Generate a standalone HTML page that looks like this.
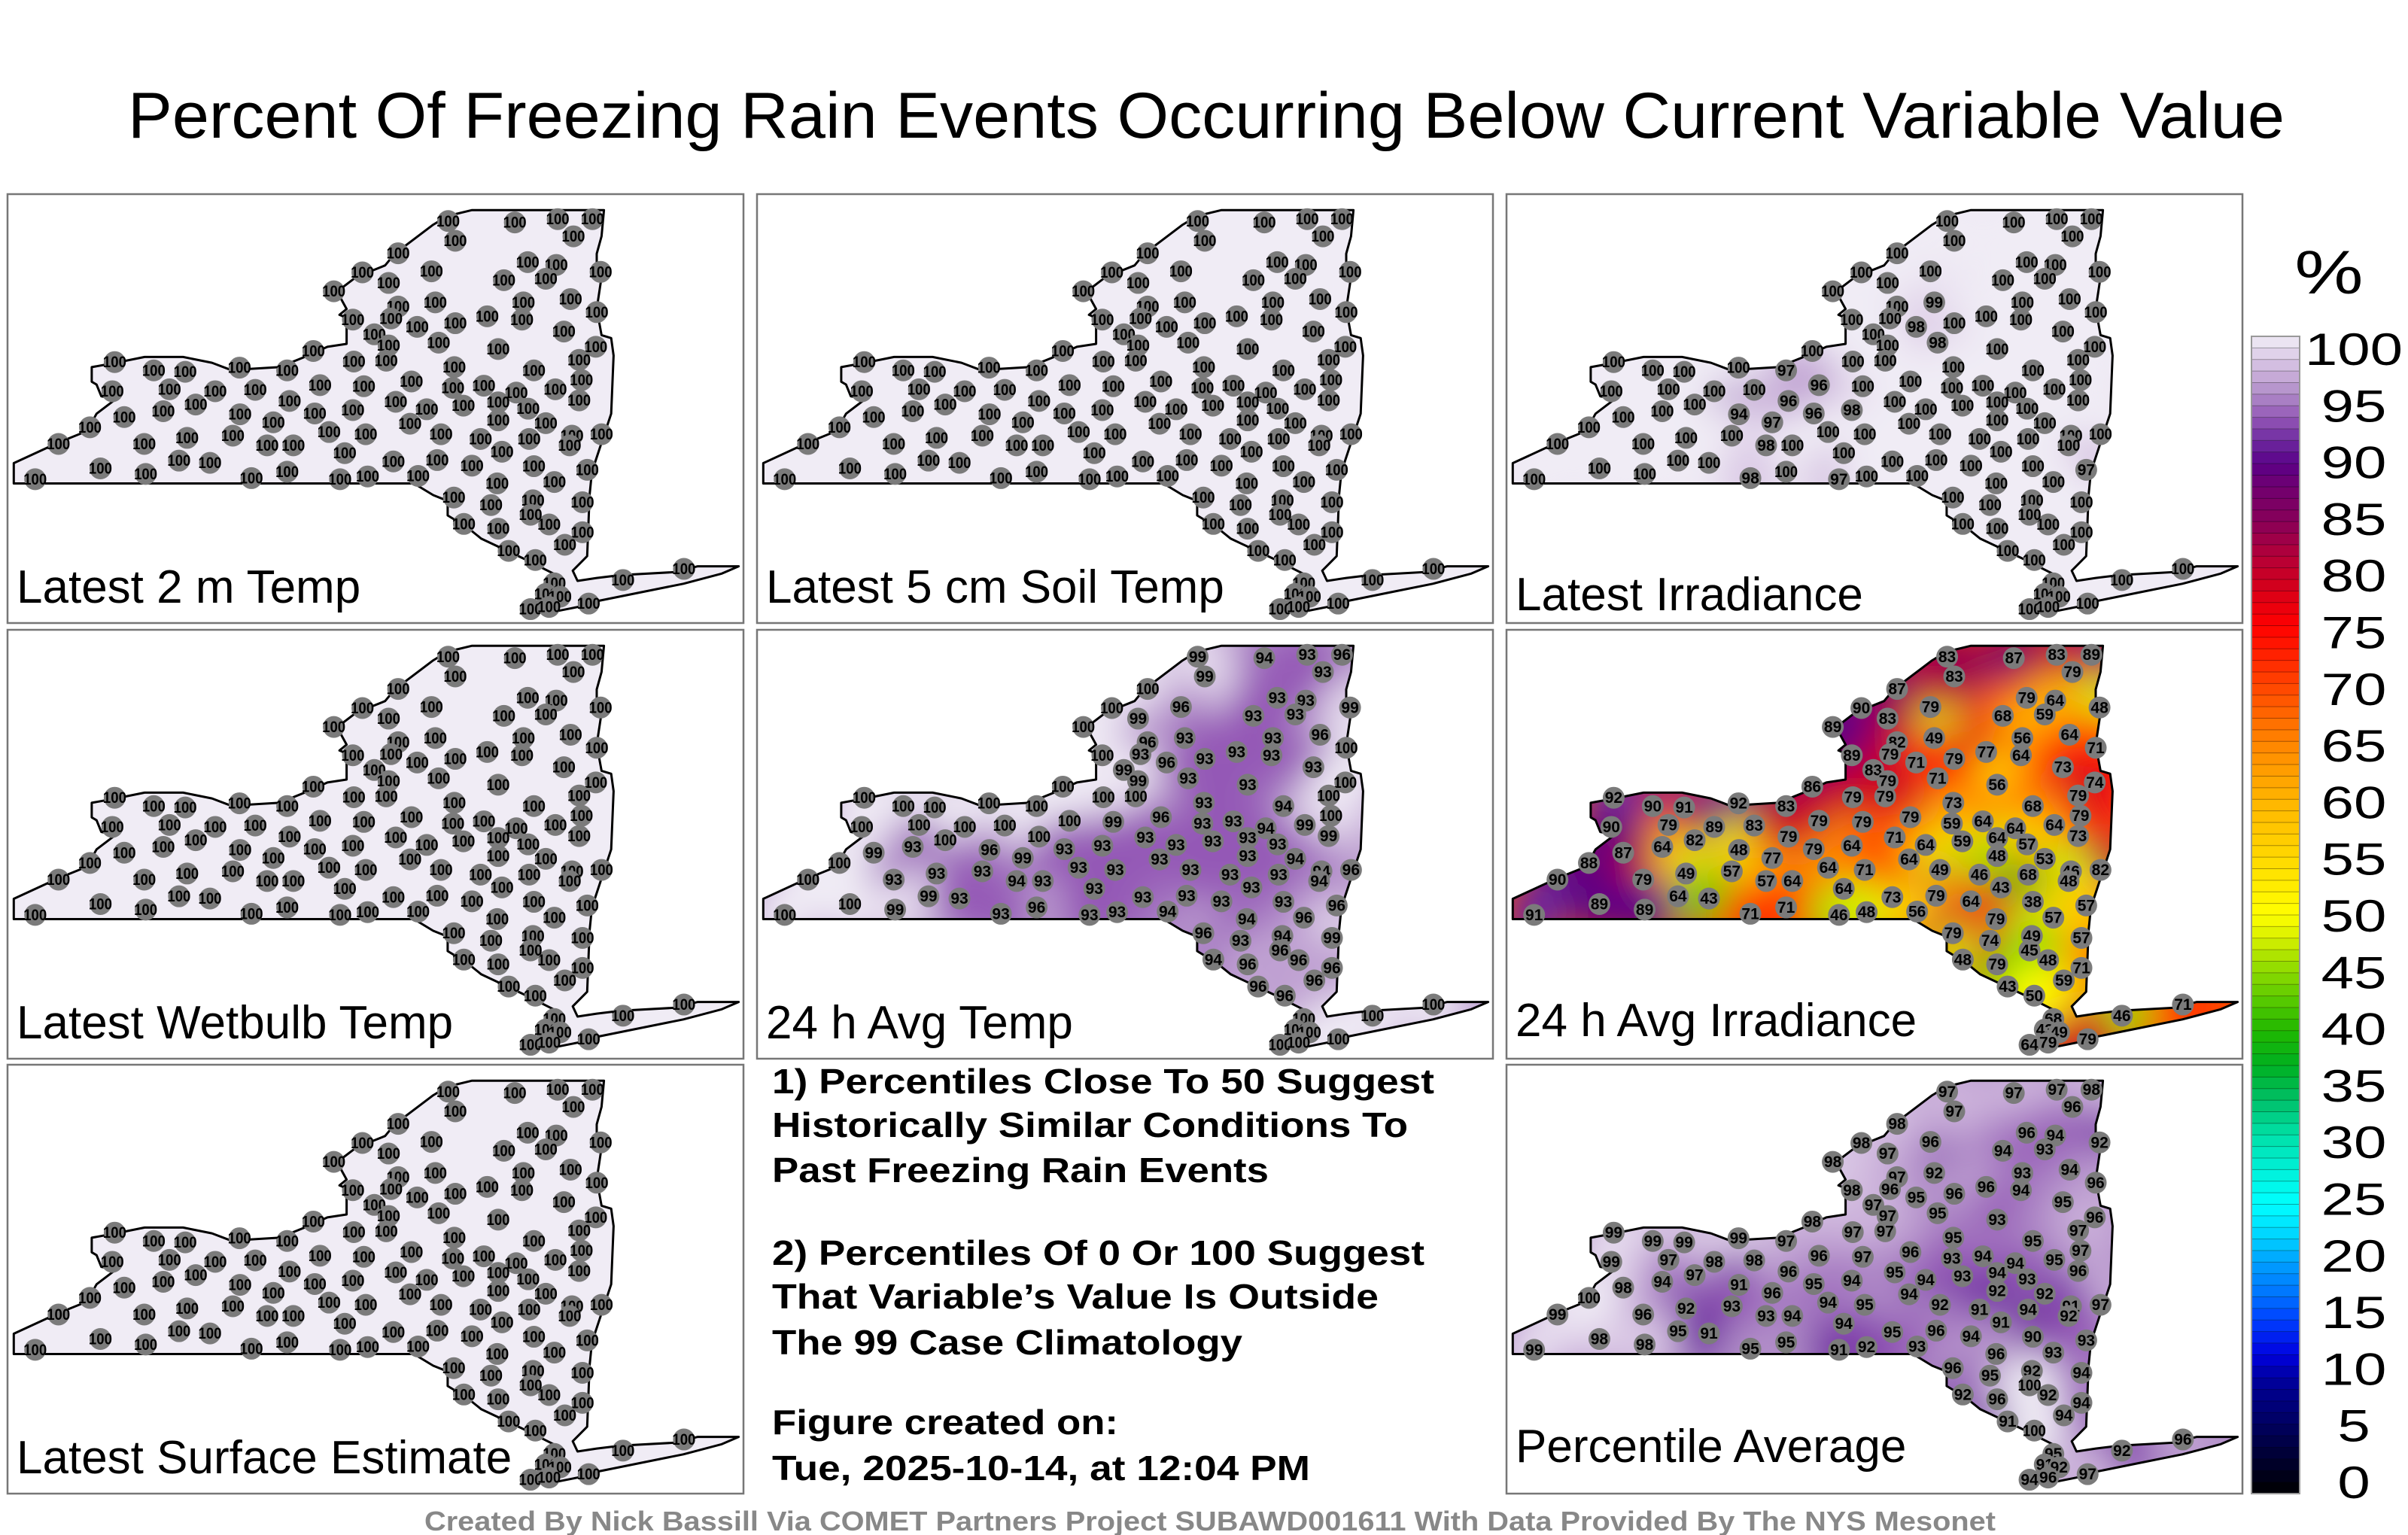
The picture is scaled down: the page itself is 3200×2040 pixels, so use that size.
<!DOCTYPE html>
<html><head><meta charset="utf-8"><style>
html,body{margin:0;padding:0;background:#fff;}
svg{display:block;}
text{font-family:"Liberation Sans",sans-serif;}
</style></head><body>
<svg id="fig" xmlns="http://www.w3.org/2000/svg" width="3200" height="2040" viewBox="0 0 3200 2040">
<rect x="0" y="0" width="3200" height="2040" fill="#fff"/>
<defs>
<filter id="blur" x="-10%" y="-10%" width="120%" height="120%"><feGaussianBlur stdDeviation="24"/></filter>
<clipPath id="stateclip" clipPathUnits="userSpaceOnUse"><path id="clipshape" d=""/></clipPath>
</defs>
<text x="1603" y="183" text-anchor="middle" font-size="86" textLength="2866" lengthAdjust="spacingAndGlyphs">Percent Of Freezing Rain Events Occurring Below Current Variable Value</text>
<g id="panels"></g>
<g font-weight="bold" font-size="46">
<text x="1026" y="1453" textLength="880" lengthAdjust="spacingAndGlyphs">1) Percentiles Close To 50 Suggest</text>
<text x="1026" y="1511" textLength="845" lengthAdjust="spacingAndGlyphs">Historically Similar Conditions To</text>
<text x="1026" y="1571" textLength="660" lengthAdjust="spacingAndGlyphs">Past Freezing Rain Events</text>
<text x="1026" y="1681" textLength="867" lengthAdjust="spacingAndGlyphs">2) Percentiles Of 0 Or 100 Suggest</text>
<text x="1026" y="1739" textLength="806" lengthAdjust="spacingAndGlyphs">That Variable’s Value Is Outside</text>
<text x="1026" y="1800" textLength="625" lengthAdjust="spacingAndGlyphs">The 99 Case Climatology</text>
<text x="1026" y="1906" textLength="460" lengthAdjust="spacingAndGlyphs">Figure created on:</text>
<text x="1026" y="1967" textLength="715" lengthAdjust="spacingAndGlyphs">Tue, 2025-10-14, at 12:04 PM</text>
</g>
<text x="564" y="2034" font-size="36" font-weight="bold" fill="#888" textLength="2088" lengthAdjust="spacingAndGlyphs">Created By Nick Bassill Via COMET Partners Project SUBAWD001611 With Data Provided By The NYS Mesonet</text>
<g id="cbar"></g>
<text x="3095" y="390" font-size="82" text-anchor="middle" transform="translate(3095 0) scale(1.25 1) translate(-3095 0)">%</text>
</svg>
<script>
// station positions (panel-normalized, units of 1/1545 of panel width/height)
const stationX=[925,1065,1155,1228,940,1188,820,890,1092,1152,1130,1245,1042,745,800,685,898,1083,1182,1237,820,805,725,860,940,1007,1080,1168,770,800,905,1030,1235,642,727,795,1200,225,307,373,487,587,938,1105,1205,220,340,436,520,656,748,848,935,1000,1068,1150,1200,592,395,327,245,488,558,645,725,815,880,957,1030,1093,1030,845,1130,675,752,910,993,1095,1185,1247,107,287,377,473,545,600,1180,1038,708,360,425,810,902,975,1105,1217,195,290,587,58,512,698,756,862,1028,1148,937,1015,1103,1207,958,1030,1137,1207,1170,1052,1292,1420,1148,1130,1160,1098,1137,1220,173,1098,1108];
const stationY=[97,102,90,90,168,152,213,278,245,255,305,280,310,282,320,350,390,390,378,425,405,448,452,478,465,440,452,495,505,545,535,558,550,565,603,600,597,605,635,640,625,635,623,635,670,710,703,710,705,688,692,675,698,690,715,703,743,745,758,782,803,793,822,790,778,748,775,762,750,773,815,827,825,857,865,865,882,882,870,865,900,900,878,870,905,905,905,928,933,960,968,963,958,978,980,993,988,1008,1000,1027,1023,1027,1017,1015,1042,1037,1093,1120,1103,1110,1188,1205,1190,1218,1263,1285,1390,1350,1402,1440,1450,1495,1487,1475,840,1155,1318];

const valsTemp2m=[100,100,100,100,100,100,100,100,100,100,100,100,100,100,100,100,100,100,100,100,100,100,100,100,100,100,100,100,100,100,100,100,100,100,100,100,100,100,100,100,100,100,100,100,100,100,100,100,100,100,100,100,100,100,100,100,100,100,100,100,100,100,100,100,100,100,100,100,100,100,100,100,100,100,100,100,100,100,100,100,100,100,100,100,100,100,100,100,100,100,100,100,100,100,100,100,100,100,100,100,100,100,100,100,100,100,100,100,100,100,100,100,100,100,100,100,100,100,100,100,100,100,100,100,100,100,100];
const valsSoil=[100,100,100,100,100,100,100,100,100,100,100,100,100,100,100,100,100,100,100,100,100,100,100,100,100,100,100,100,100,100,100,100,100,100,100,100,100,100,100,100,100,100,100,100,100,100,100,100,100,100,100,100,100,100,100,100,100,100,100,100,100,100,100,100,100,100,100,100,100,100,100,100,100,100,100,100,100,100,100,100,100,100,100,100,100,100,100,100,100,100,100,100,100,100,100,100,100,100,100,100,100,100,100,100,100,100,100,100,100,100,100,100,100,100,100,100,100,100,100,100,100,100,100,100,100,100,100];
const valsIrr=[100,100,100,100,100,100,100,100,100,100,100,100,100,100,100,100,99,100,100,100,100,100,100,98,100,100,100,100,100,100,98,100,100,100,100,100,100,100,100,100,100,97,100,100,100,100,100,100,100,96,100,100,100,100,100,100,100,96,100,100,100,94,97,96,98,100,100,100,100,100,100,100,100,100,100,100,100,100,100,100,100,100,100,100,98,100,100,100,100,100,100,100,100,100,100,97,100,100,100,100,98,97,100,100,100,100,100,100,100,100,100,100,100,100,100,100,100,100,100,100,100,100,100,100,100,100,100];
const valsWetbulb=valsTemp2m.slice();
const valsAvgTemp=[99,94,93,96,99,93,100,96,93,93,93,99,93,100,99,100,93,93,96,100,96,93,100,96,93,93,93,93,99,99,93,93,100,100,100,100,100,100,100,100,100,100,93,94,100,100,100,100,100,100,99,96,93,93,94,99,99,100,100,93,99,96,99,93,93,93,93,93,93,93,93,93,94,93,93,93,93,93,94,96,100,93,93,93,94,93,94,93,93,99,93,93,93,93,93,96,100,99,96,100,93,93,93,94,94,96,96,93,94,99,94,96,96,96,96,96,100,100,100,100,100,100,100,100,100,96,96];
const valsAvgIrr=[83,87,83,89,83,79,87,79,79,64,59,48,68,90,83,89,49,56,64,71,82,79,89,71,79,77,64,73,83,79,71,56,74,86,79,79,79,92,90,91,92,83,73,68,79,90,79,89,83,79,79,79,59,64,64,64,73,79,82,64,87,48,77,79,64,71,64,59,64,57,48,64,53,64,71,49,46,68,46,82,90,79,49,57,57,64,48,43,64,64,43,73,79,64,38,57,89,89,71,91,71,46,48,56,79,57,79,74,49,57,48,79,48,71,59,43,46,71,68,43,49,64,79,79,88,45,50];
const valsSurface=valsTemp2m.slice();
const valsPctAvg=[97,97,97,98,97,96,98,96,96,94,93,92,94,98,97,98,92,93,94,96,97,96,98,95,96,96,94,95,97,97,95,93,96,98,97,97,97,99,99,99,99,97,95,95,97,99,97,98,98,96,97,96,93,94,94,95,96,96,97,94,98,91,96,95,94,95,94,93,94,93,92,94,92,94,95,92,91,94,91,97,99,96,92,93,93,94,92,91,94,95,91,95,96,94,90,93,98,98,95,99,95,91,92,93,96,93,96,95,92,94,92,96,92,94,94,91,92,96,95,91,92,94,96,97,100,100,100];

const panelTitles=["Latest 2 m Temp","Latest 5 cm Soil Temp","Latest Irradiance","Latest Wetbulb Temp","24 h Avg Temp","24 h Avg Irradiance","Latest Surface Estimate","Percentile Average"];
const panelValues=[valsTemp2m,valsSoil,valsIrr,valsWetbulb,valsAvgTemp,valsAvgIrr,valsSurface,valsPctAvg];
const cbarTicks=[0,5,10,15,20,25,30,35,40,45,50,55,60,65,70,75,80,85,90,95,100];

const stops=[[0,"#000000"],[5,"#000050"],[10,"#0000a0"],[12,"#0000e0"],[15,"#0040ff"],[17,"#0070ff"],[20,"#00a0ff"],[22,"#00d0ff"],[25,"#00ffff"],[28,"#00f0d8"],[31,"#00e0a8"],[34,"#00c068"],[37,"#00b020"],[40,"#20b800"],[43,"#60cc00"],[46,"#a0e000"],[48,"#d8f000"],[50,"#ffff00"],[53,"#ffe800"],[56,"#ffd000"],[60,"#ffb400"],[63,"#ff9800"],[66,"#ff7800"],[69,"#ff5000"],[72,"#ff2800"],[75,"#ff0000"],[78,"#d80018"],[81,"#b40038"],[84,"#880058"],[87,"#700070"],[89,"#5a0088"],[91,"#6e2aa0"],[93,"#9458b6"],[95,"#b08cc8"],[97,"#cdb4dc"],[99,"#e6dcee"],[100,"#f0ecf5"]];
function hex2rgb(h){return [parseInt(h.substr(1,2),16),parseInt(h.substr(3,2),16),parseInt(h.substr(5,2),16)];}
function cmap(v){
  v=Math.max(0,Math.min(100,v));
  for(let i=1;i<stops.length;i++){
    if(v<=stops[i][0]){
      const a=stops[i-1],b=stops[i];const t=(v-a[0])/(b[0]-a[0]||1);
      const ca=hex2rgb(a[1]),cb=hex2rgb(b[1]);
      return "rgb("+ca.map((c,k)=>Math.round(c+(cb[k]-c)*t)).join(",")+")";
    }
  }
  return stops[stops.length-1][1];
}

const NS="http://www.w3.org/2000/svg";
const PW=978,PH=570;
const colX=[10,1006,2002],rowY=[258,837,1415];
const slots=[[0,0],[1,0],[2,0],[0,1],[1,1],[2,1],[0,2],[2,2]];
const labelDy=[543,543,553,543,543,540,543,528];
function px(u){return u/1545*PW;}
function py(v){return v/1545*PH;}

// state outline geometry (reference-image trace)
const outlineRaw=[[28,1040],[28,970],[120,900],[180,860],[200,800],[240,750],[210,740],[200,700],[190,690],[190,640],[240,625],[300,605],[380,605],[440,625],[480,650],[580,640],[640,600],[680,570],[720,560],[720,470],[705,460],[720,440],[700,380],[740,330],[800,290],[820,250],[900,150],[930,120],[980,100],[1255,100],[1250,190],[1240,250],[1240,300],[1250,330],[1240,440],[1250,530],[1270,540],[1275,600],[1270,800],[1250,900],[1230,1000],[1225,1080],[1220,1290],[1190,1340],[1200,1375],[1240,1365],[1290,1355],[1400,1345],[1450,1325],[1535,1325],[1500,1350],[1420,1385],[1330,1415],[1240,1445],[1200,1465],[1160,1478],[1140,1480],[1130,1450],[1160,1390],[1150,1350],[1090,1300],[1000,1230],[970,1190],[930,1150],[930,1100],[900,1080],[860,1040]];
let d="";
outlineRaw.forEach((p,i)=>{const x=px((p[0]-15)*1545/1530),y=py((p[1]-45)*1545/1475);d+=(i?"L":"M")+x.toFixed(1)+" "+y.toFixed(1);});
d+="Z";
document.getElementById('clipshape').setAttribute('d',d);

const panelsG=document.getElementById('panels');
function mk(tag,attrs,parent){const e=document.createElementNS(NS,tag);for(const k in attrs)e.setAttribute(k,attrs[k]);parent.appendChild(e);return e;}

panelTitles.forEach((title,pi)=>{
  const vals=panelValues[pi];
  const g=mk('g',{transform:`translate(${colX[slots[pi][0]]} ${rowY[slots[pi][1]]})`},panelsG);
  
  
  const frame=mk('rect',{x:0,y:0,width:PW,height:PH,fill:'#fff',stroke:'#777','stroke-width':2.5},g);
  
  
  let mean=0;vals.forEach(v=>mean+=v);mean/=vals.length;
  const clipG=mk('g',{'clip-path':'url(#stateclip)'},g);
  
  
  mk('path',{d:d,fill:cmap(mean)},clipG);
  const blurG=mk('g',{filter:'url(#blur)'},clipG);
  vals.forEach((v,i)=>{mk('circle',{cx:px(stationX[i]),cy:py(stationY[i]),r:42,fill:cmap(v)},blurG);});
  const ol=mk('path',{d:d,fill:'none',stroke:'#000','stroke-width':3,'stroke-linejoin':'round'},g);
  
  
  const sg=mk('g',{},g);
  
  
  vals.forEach((v,i)=>{
    const cx=px(stationX[i]),cy=py(stationY[i]);
    const c=mk('circle',{cx:cx,cy:cy,r:14.5,fill:'#7b7b7b'},sg);
    
    
    const t=mk('text',{x:cx,y:cy+7,'text-anchor':'middle','font-size':21,'font-weight':'bold',fill:'#000'},sg);
    if(v>=100){t.setAttribute('textLength',31);t.setAttribute('lengthAdjust','spacingAndGlyphs');}
    
    
    t.textContent=String(v);
  });
  const lab=mk('text',{x:12,y:labelDy[pi],'font-size':62},g);
  
  
  lab.textContent=title;
});

// colorbar
const cb=document.getElementById('cbar');
const CB_X=2992,CB_W=64,CB_TOP=447,CB_BOT=1985;
function cbY(v){return CB_BOT-(v/100)*(CB_BOT-CB_TOP);}
for(let v=0;v<100;v++){
  const r=mk('rect',{x:CB_X,y:cbY(v+1),width:CB_W,height:cbY(v)-cbY(v+1)+0.5,fill:cmap(v+0.5)},cb);
  
  
  mk('line',{x1:CB_X,x2:CB_X+CB_W,y1:cbY(v),y2:cbY(v),stroke:'rgba(0,0,0,0.35)','stroke-width':1},cb);
}
mk('rect',{x:CB_X,y:CB_TOP,width:CB_W,height:CB_BOT-CB_TOP,fill:'none',stroke:'#999','stroke-width':2},cb);
cbarTicks.forEach(v=>{
  const y=CB_TOP+16+(1-v/100)*(CB_BOT-CB_TOP-32)+22;
  const t=mk('text',{x:0,y:0,'font-size':60,'text-anchor':'middle',transform:`translate(3128 ${y}) scale(1.3 1)`},cb);
  
  
  t.textContent=String(v);
});
</script>
</body></html>
